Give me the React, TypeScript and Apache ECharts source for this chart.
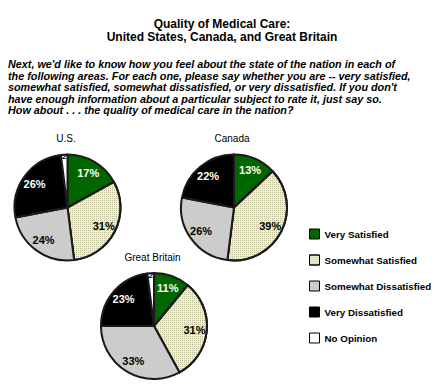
import React, { useEffect, useRef } from "react";
import * as echarts from "echarts";

const categories = ["Very Satisfied", "Somewhat Satisfied", "Somewhat Dissatisfied", "Very Dissatisfied", "No Opinion"];
const usValues = [17, 31, 24, 26, 2];
const canadaValues = [13, 39, 26, 22, 0];
const britainValues = [11, 31, 33, 23, 2];
const countries = ["U.S.", "Canada", "Great Britain"];
const titleText = "Quality of Medical Care:\nUnited States, Canada, and Great Britain";
const questionLines = [
  "Next, we'd like to know how you feel about the state of the nation in each of",
  "the following areas. For each one, please say whether you are -- very satisfied,",
  "somewhat satisfied, somewhat dissatisfied, or very dissatisfied. If you don't",
  "have enough information about a particular subject to rate it, just say so.",
  "How about . . . the quality of medical care in the nation?",
];

const colors = ["#006600", "#f2f0d2", "#cccccc", "#000000", "#ffffff"];
const labelColors = ["#ffffff", "#000000", "#000000", "#ffffff", "#000000"];
const hatch = {
  color: "rgba(170,170,130,0.7)",
  dashArrayX: [1, 1],
  dashArrayY: [1, 1],
  rotation: 0,
  symbol: "rect",
  symbolSize: 1,
};

const R = 53;
const pies = [
  { values: usValues, center: [67.5, 207.5], title: [66, 132] },
  { values: canadaValues, center: [234, 207.5], title: [232, 132] },
  { values: britainValues, center: [154, 326], title: [152.5, 251] },
];

const font = "Arial, 'Liberation Sans', Helvetica, sans-serif";

function itemStyleFor(i: number) {
  const s: any = { color: colors[i] };
  if (i === 1) s.decal = hatch;
  return s;
}

export default function App() {
  const ref = useRef<HTMLDivElement>(null);
  useEffect(() => {
    if (!ref.current) return;
    const chart = echarts.init(ref.current, undefined, { renderer: "svg" });
    const series: any[] = [];
    pies.forEach((p) => {
      series.push({
        type: "pie",
        radius: [0, R],
        center: p.center,
        startAngle: 90,
        clockwise: true,
        silent: true,
        label: { show: false },
        labelLine: { show: false },
        itemStyle: { borderColor: "#1a1a1a", borderWidth: 2 },
        data: p.values.map((v, i) => ({ name: categories[i], value: v, itemStyle: itemStyleFor(i) })),
      });
      series.push({
        type: "pie",
        radius: [R * 0.42, R],
        center: p.center,
        startAngle: 90,
        clockwise: true,
        silent: true,
        legendHoverLink: false,
        labelLine: { show: false },
        itemStyle: { color: "rgba(0,0,0,0)", borderWidth: 0 },
        emphasis: { disabled: true },
        data: p.values.map((v, i) => ({
          name: categories[i],
          value: v,
          itemStyle: { color: "rgba(0,0,0,0)" },
          label: {
            show: i < 4 && v > 0,
            position: "inside",
            formatter: "{c}%",
            color: labelColors[i],
            fontFamily: font,
            fontWeight: "bold",
            fontSize: 11,
          },
        })),
      });
      series.push({
        type: "pie",
        radius: [R * 0.8, R],
        center: p.center,
        startAngle: 90,
        clockwise: true,
        silent: true,
        legendHoverLink: false,
        labelLine: { show: false },
        itemStyle: { color: "rgba(0,0,0,0)", borderWidth: 0 },
        emphasis: { disabled: true },
        data: p.values.map((v, i) => ({
          name: categories[i],
          value: v,
          itemStyle: { color: "rgba(0,0,0,0)" },
          label: {
            show: i === 4 && v > 0,
            position: "inside",
            formatter: "{c}",
            color: "#000000",
            fontFamily: font,
            fontWeight: "bold",
            fontSize: 8,
          },
        })),
      });
    });

    const titles: any[] = [
      {
        text: titleText,
        left: 222,
        top: 17,
        padding: 0,
        textAlign: "center",
        textStyle: { fontFamily: font, fontWeight: "bold", fontSize: 12, lineHeight: 13, color: "#000" },
      },
      {
        text: questionLines.join("\n"),
        left: 8,
        top: 58.5,
        padding: 0,
        textStyle: { fontFamily: font, fontWeight: "bold", fontStyle: "italic", fontSize: 10.8, lineHeight: 11.5, color: "#000" },
      },
    ];
    pies.forEach((p, k) => {
      titles.push({
        text: countries[k],
        left: p.title[0],
        top: p.title[1],
        padding: 0,
        textAlign: "center",
        textStyle: { fontFamily: font, fontWeight: "normal", fontSize: 10, lineHeight: 12, color: "#000" },
      });
    });

    chart.setOption({
      animation: false,
      title: titles,
      legend: {
        orient: "vertical",
        left: 309,
        top: 228,
        padding: 0,
        itemWidth: 10,
        itemHeight: 10,
        itemGap: 14,
        icon: "rect",
        selectedMode: false,
        textStyle: { fontFamily: font, fontWeight: "bold", fontSize: 9.8, lineHeight: 12, color: "#000" },
        itemStyle: { borderColor: "#000", borderWidth: 1 },
        data: categories.map((c, i) => ({ name: c, itemStyle: { ...itemStyleFor(i), borderColor: "#000", borderWidth: 1 } })),
      },
      series,
    });
    return () => chart.dispose();
  }, []);
  return (
    <div
      ref={ref}
      style={{ position: "absolute", left: 0, top: 0, width: 440, height: 385, background: "#fff" }}
    />
  );
}
